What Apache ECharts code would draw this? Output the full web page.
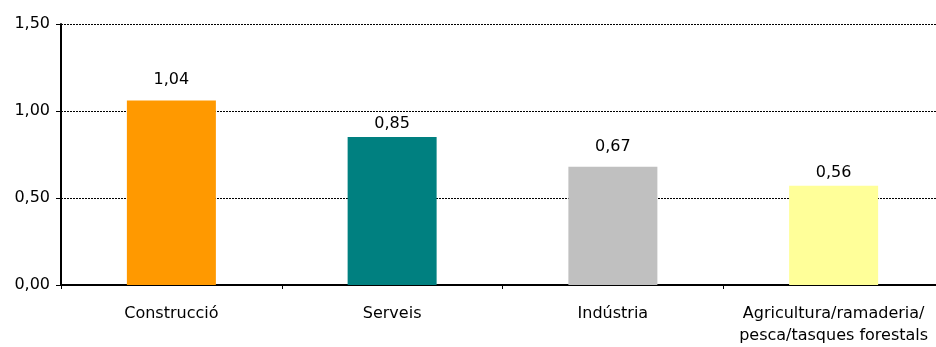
<!DOCTYPE html>
<html>
<head>
<meta charset="utf-8">
<script src="https://cdn.jsdelivr.net/npm/echarts@6/dist/echarts.min.js"></script>
<style>
  html, body { margin: 0; padding: 0; background: #fff; overflow: hidden; }
  /* plot area runs a little past the right edge of the window, as in the source */
  #chart { width: 950px; height: 347px; }
</style>
</head>
<body>
<div id="chart"></div>
<script>
const categories = ['Construcció', 'Serveis', 'Indústria', 'Agricultura/ramaderia/\npesca/tasques forestals']
// bar heights as drawn, and the printed labels
const barValues = [1.06, 0.85, 0.68, 0.57]
const labelTexts = ['1,04', '0,85', '0,67', '0,56']
const barColors = ['#FF9900', '#008080', '#C0C0C0', '#FFFF99']
const labelGap = [13, 5, 12, 5]

const font = 'DejaVu Sans, Liberation Sans, sans-serif'
const chart = echarts.init(document.getElementById('chart'))

const seriesData = barValues.map((v, i) => ({
  value: v,
  itemStyle: { color: barColors[i] },
  label: { formatter: labelTexts[i], distance: labelGap[i] }
}))

const option = {
  animation: false,
  grid: { left: 61, top: 24, width: 883, height: 261 },
  xAxis: {
    type: 'category',
    data: categories,
    axisLine: { lineStyle: { color: '#000', width: 2 } },
    axisTick: { show: true, length: 4, lineStyle: { color: '#000', width: 1 } },
    axisLabel: {
      color: '#000', fontSize: 16, fontFamily: font,
      margin: 18, lineHeight: 22, interval: 0
    }
  },
  yAxis: {
    type: 'value',
    min: 0,
    max: 1.5,
    interval: 0.5,
    axisLine: { show: true, lineStyle: { color: '#000', width: 2 } },
    axisTick: { show: true, length: 5, lineStyle: { color: '#000', width: 1 } },
    axisLabel: {
      color: '#000', fontSize: 16, fontFamily: font,
      margin: 11,
      formatter: v => v.toFixed(2).replace('.', ',')
    },
    splitLine: { show: true, lineStyle: { color: '#000', type: [2, 1], width: 1 } }
  },
  series: [
    {
      type: 'bar',
      data: seriesData,
      barWidth: 89,
      label: {
        show: true,
        position: 'top',
        color: '#000',
        fontSize: 16,
        fontFamily: font
      }
    }
  ]
}

chart.setOption(option)
</script>
</body>
</html>
